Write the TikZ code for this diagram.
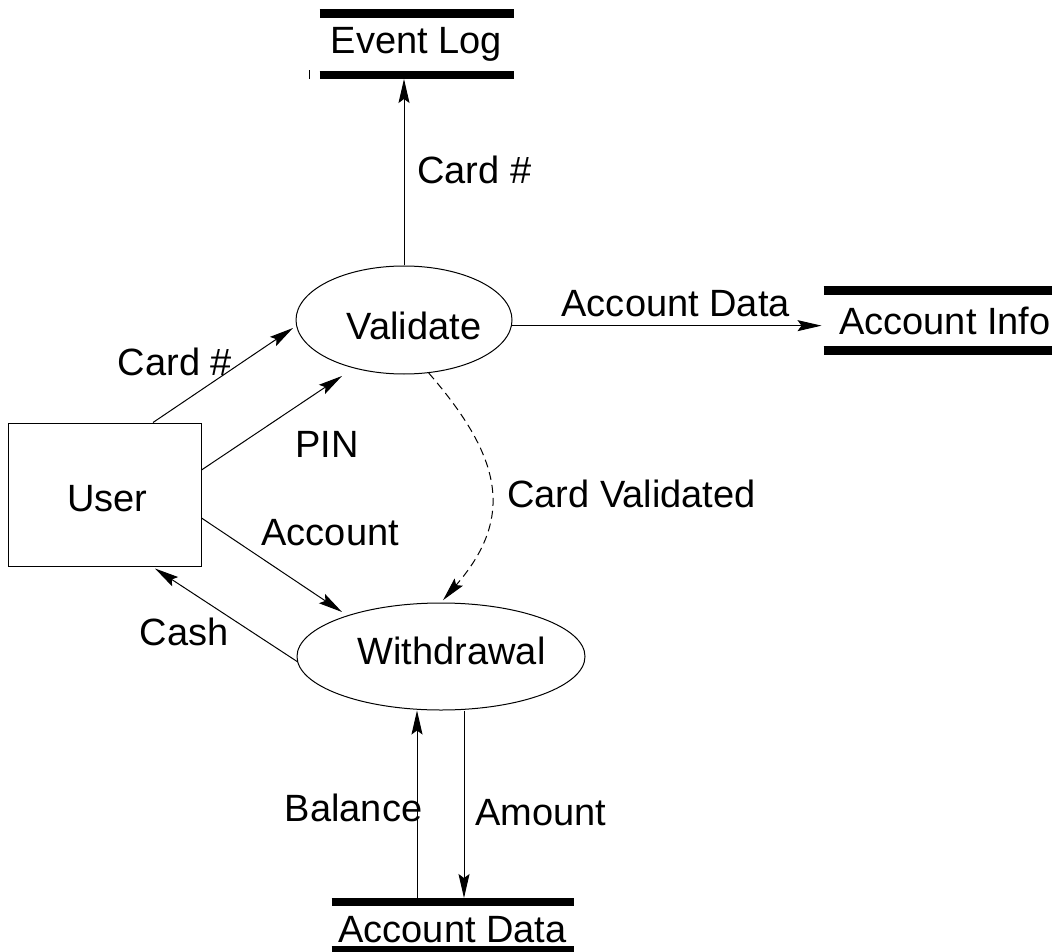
\documentclass[tikz,border=0pt]{standalone}
\usepackage{fontspec}
\setmainfont{Liberation Sans}
\usetikzlibrary{calc,positioning,shapes.geometric,arrows.meta}

\begin{document}
\begin{tikzpicture}[x=0.5pt,y=-0.5pt,line width=0.5pt,>={Stealth[length=12pt,width=5.5pt,inset=2pt]},font={\fontsize{19}{23}\selectfont},
  proc/.style={draw,ellipse,inner sep=0pt},
  store/.style={inner sep=0pt},
  storeline/.style={line width=4.25pt},
  flow/.style={->},
  ctrl/.style={->,dash pattern=on 4pt off 2.5pt}]
\useasboundingbox (0,0) rectangle (1052,951);

% processes
\node[proc,minimum width=108pt,minimum height=54pt,label={[xshift=5pt,yshift=-2.75pt]center:Validate}] (val) at (404,320) {};
\node[proc,minimum width=144pt,minimum height=53.5pt,label={[xshift=5.25pt,yshift=3pt]center:Withdrawal}] (wdr) at (441,656.5) {};

% external entity
\node[draw,minimum width=96.5pt,minimum height=71.5pt,label={[xshift=1.5pt,yshift=-2pt]center:User}] (user) at (104.5,494.5) {};

% data stores
\node[store,minimum width=96.5pt,minimum height=30.25pt] (elog) at (416.5,44.25) {Event Log};
\node[store,minimum width=121pt,minimum height=29.5pt] (ainfo) at (945,320.5) {Account Info};
\node[store,minimum width=120.5pt,minimum height=23.75pt,label={[yshift=-1.5pt]center:Account Data}] (adata) at (452.5,926.25) {};

\draw[storeline] (elog.north west) -- (elog.north east);
\draw[storeline] (elog.south west) -- (elog.south east);
\draw[storeline] (ainfo.north west) -- (ainfo.north east);
\draw[storeline] (ainfo.south west) -- (ainfo.south east);
\draw[storeline] (adata.north west) -- (adata.north east);
\draw[storeline] (adata.south west) -- (adata.south east);
\draw ($(elog.south west)+(-10,-4.5)$) -- ++(0,9);

% flows from validate
\draw[flow,shorten >=2pt] (val.north) -- (val.north |- elog.south) node[midway,right,xshift=3pt] {Card \#};
\draw[flow,shorten >=1pt] (val.-3) -- (val.-3 -| ainfo.west) node[midway,above=1pt,xshift=4pt] {Account Data};

% flows between user and processes
\draw[flow] ($(user.north)+(48.5,0)$) -- ($(val.center)+(-111,8)$) node[midway,xshift=-24pt,yshift=6.75pt] {Card \#};
\draw[flow] ($(user.east)+(0,-24.5)$) -- ($(val.center)+(-62,56)$) node[midway,xshift=27.75pt,yshift=-10.5pt] {PIN};
\draw[flow] ($(user.east)+(0,23.5)$) -- ($(wdr.center)+(-99,-44.5)$) node[midway,xshift=29.25pt,yshift=16pt] {Account};
\draw[flow] (wdr.182) -- ($(user.south)+(50.5,2)$) node[midway,xshift=-21pt,yshift=-8.5pt] {Cash};

% control flow
\draw[ctrl,shorten >=1.5pt] (val.-65) to[out=-49,in=49,looseness=1.25] node[midway,right,xshift=5pt,yshift=-3pt] {Card Validated} (wdr.north);

% flows to the account data store
\draw[flow] ($(adata.north)+(-35.5,0)$) -- ($(wdr.south)+(-24,0)$) node[midway,xshift=-31.75pt,yshift=-1pt] {Balance};
\draw[flow,shorten >=2pt] ($(wdr.south)+(23,0)$) -- ($(adata.north)+(11.5,0)$) node[midway,right,xshift=2pt,yshift=-3pt] {Amount};
\end{tikzpicture}
\end{document}
